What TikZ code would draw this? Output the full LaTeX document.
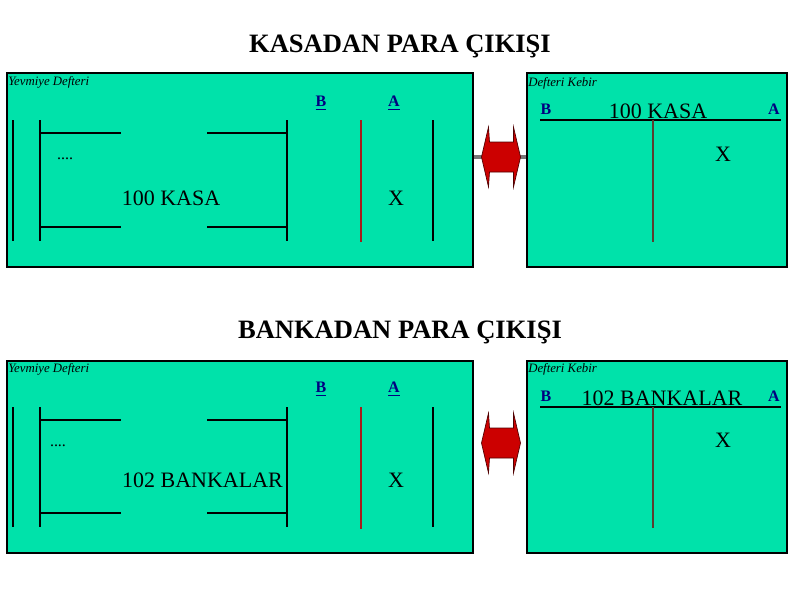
\documentclass[tikz,border=0pt]{standalone}
\usepackage{fontspec}
\setmainfont{Liberation Serif}
\definecolor{boxfill}{HTML}{00E2AA}
\definecolor{redline}{HTML}{A81C1C}
\definecolor{brownline}{HTML}{5A3E30}
\definecolor{navyt}{HTML}{000080}
\definecolor{arrred}{HTML}{CC0000}
\definecolor{arredge}{HTML}{500000}
\definecolor{connGray}{HTML}{777777}
\tikzset{
  panel/.style={draw=black, fill=boxfill, line width=0.9pt},
  thin/.style={draw=black, line width=0.8pt},
  redv/.style={draw=redline, line width=1.8pt},
  brownv/.style={draw=brownline, line width=1.6pt},
  title/.style={font=\fontsize{19.9}{22}\selectfont\bfseries, inner sep=0pt, anchor=base},
  big/.style={font=\fontsize{16.5}{19}\selectfont, inner sep=0pt},
  corner/.style={font=\fontsize{9.6}{11}\selectfont\itshape, inner sep=0pt, anchor=west},
  lab/.style={font=\fontsize{12}{13}\selectfont\bfseries, text=navyt, inner sep=0pt},
  dots/.style={font=\fontsize{12}{14}\selectfont, inner sep=0pt},
  dblarr/.pic={
    \fill[arrred, draw=arredge, line width=0.5pt]
      (-19,0) -- (-12,-30) -- (-11,-15) -- (13,-15) -- (13,-30) -- (20,0)
      -- (13,30) -- (13,15) -- (-11,15) -- (-12,30) -- cycle;
  }
}
\begin{document}
\begin{tikzpicture}[x=0.75pt, y=-0.75pt]
\useasboundingbox (0,0) rectangle (800,600);
\fill[white] (0,0) rectangle (800,600);

% ===== TOP =====
\node[title] (t1) at (400,52) {KASADAN PARA ÇIKIŞI};

% gray connector behind arrow
\coordinate (g1) at (473,157);
\coordinate (g2) at (527,157);
\draw[connGray, line width=3pt] (g1) -- (g2);

\draw[panel] (7,73) rectangle (473,267);
\node[corner] (yd1) at (8,82) {Yevmiye Defteri};
\draw[thin] (13,120) -- (13,241);
\draw[thin] (40,120) -- (40,241);
\draw[thin] (40,133) -- (121,133);
\draw[thin] (207,133) -- (287,133);
\draw[thin] (40,227) -- (121,227);
\draw[thin] (207,227) -- (287,227);
\draw[thin] (287,120) -- (287,241);
\draw[redv] (361,120) -- (361,242);
\draw[thin] (433,120) -- (433,241);
\node[lab] (b1) at (321,103) {\underline{B}};
\node[lab] (a1) at (394,103) {\underline{A}};
\node[dots] (d1) at (65,159) {....};
\node[big] (k1) at (171,198) {100 KASA};
\node[big] (x1) at (396,198) {X};

\draw[panel] (527,73) rectangle (787,267);
\node[corner] (dk1) at (528,83) {Defteri Kebir};
\node[lab] (rb1) at (546,109) {B};
\node[lab] (ra1) at (774,109) {A};
\node[big] (rk1) at (658,111) {100 KASA};
\draw[thin] (540,120) -- (781,120);
\draw[brownv] (653,120) -- (653,242);
\node[big] (rx1) at (723,154) {X};

\pic at (500.5,157) {dblarr};

% ===== BOTTOM =====
\node[title] (t2) at (400,338) {BANKADAN PARA ÇIKIŞI};

\draw[panel] (7,361) rectangle (473,553);
\node[corner] (yd2) at (8,369) {Yevmiye Defteri};
\draw[thin] (13,407) -- (13,527);
\draw[thin] (40,407) -- (40,527);
\draw[thin] (40,420) -- (121,420);
\draw[thin] (207,420) -- (287,420);
\draw[thin] (40,513) -- (121,513);
\draw[thin] (207,513) -- (287,513);
\draw[thin] (287,407) -- (287,527);
\draw[redv] (361,407) -- (361,529);
\draw[thin] (433,407) -- (433,527);
\node[lab] (b2) at (321,389) {\underline{B}};
\node[lab] (a2) at (394,389) {\underline{A}};
\node[dots] (d2) at (58,446) {....};
\node[big] (k2) at (202.5,480) {102 BANKALAR};
\node[big] (x2) at (396,480) {X};

\draw[panel] (527,361) rectangle (787,553);
\node[corner] (dk2) at (528,369) {Defteri Kebir};
\node[lab] (rb2) at (546,396) {B};
\node[lab] (ra2) at (774,396) {A};
\node[big] (rk2) at (662,398) {102 BANKALAR};
\draw[thin] (540,407) -- (781,407);
\draw[brownv] (653,407) -- (653,528);
\node[big] (rx2) at (723,440) {X};

\pic at (500.5,443) {dblarr};
\end{tikzpicture}
\end{document}
